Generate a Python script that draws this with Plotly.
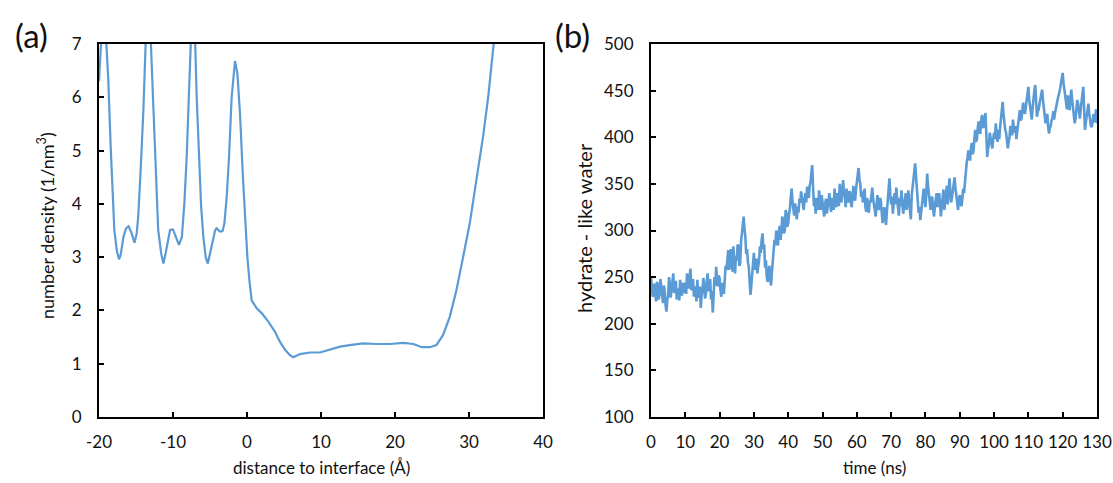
import numpy as np
import plotly.graph_objects as go

# ---- panel (a): number density profile ----
distance = [-20, -19.8, -19.5, -19.2, -19.0, -18.74, -18.42, -18.2, -17.93, -17.6,
            -17.3, -17.07, -16.7, -16.35, -16.0, -15.6, -15.2, -14.9, -14.7, -14.37,
            -14.0, -13.7, -13.35, -13.0, -12.88, -12.57, -12.3, -12.0, -11.6, -11.3,
            -11.0, -10.7, -10.4, -10.0, -9.6, -9.2, -8.8, -8.47, -8.15, -7.84,
            -7.6, -7.3, -7.0, -6.8, -6.49, -6.2, -5.9, -5.58, -5.3, -5.0,
            -4.7, -4.3, -4.1, -3.65, -3.3, -3.06, -2.74, -2.43, -2.07, -1.62,
            -1.3, -0.95, -0.55, -0.2, 0.05, 0.32, 0.63, 1.31, 1.98, 2.88,
            3.78, 4.46, 5.14, 5.8, 6.26, 7.16, 8.5, 9.86, 11.2, 12.57,
            13.9, 15.7, 17.5, 19.3, 21.1, 22.5, 23.6, 24.7, 25.6, 26.5,
            27.4, 28.3, 29.2, 30.1, 31.0, 31.9, 32.6, 33.3, 33.7]
density = [6.3, 7.05, 7.6, 7.5, 7.0, 6.32, 5.07, 4.38, 3.51, 3.13,
           2.96, 3.04, 3.38, 3.54, 3.58, 3.45, 3.27, 3.45, 3.76, 4.63,
           5.76, 7.0, 7.5, 7.05, 6.63, 5.38, 4.32, 3.51, 3.07, 2.88,
           3.07, 3.32, 3.51, 3.52, 3.38, 3.23, 3.38, 4.0, 4.88, 6.01,
           7.0, 7.4, 7.0, 6.01, 4.76, 3.95, 3.38, 3.0, 2.88, 3.07,
           3.32, 3.51, 3.54, 3.48, 3.49, 3.63, 4.13, 4.88, 6.01, 6.68,
           6.45, 5.7, 4.5, 3.6, 3.0, 2.57, 2.19, 2.04, 1.95, 1.79,
           1.6, 1.41, 1.26, 1.16, 1.12, 1.18, 1.21, 1.21, 1.26, 1.32,
           1.35, 1.38, 1.37, 1.37, 1.39, 1.37, 1.31, 1.31, 1.35, 1.54,
           1.88, 2.38, 3.0, 3.63, 4.45, 5.26, 6.01, 6.95, 7.5]
dist_tickvals = [-20, -10, 0, 10, 20, 30, 40]
dist_ticktext = ["-20", "-10", "0", "10", "20", "30", "40"]

# ---- panel (b): hydrate-like water vs time (0.25 ns steps, two rows = 10 ns) ----
hydrate_water = [
    250, 238, 229, 236, 243, 231, 224, 245, 240, 226, 232, 248, 238, 229, 222, 241, 235, 220, 213, 226,
    230, 250, 243, 228, 236, 247, 254, 233, 240, 246, 226, 231, 238, 225, 247, 236, 230, 244, 233, 238,
    244, 232, 254, 241, 238, 250, 259, 236, 240, 248, 229, 240, 236, 224, 247, 233, 228, 240, 217, 230,
    236, 249, 243, 227, 232, 245, 254, 235, 238, 248, 226, 235, 212, 230, 250, 241, 261, 247, 240, 252,
    248, 236, 229, 244, 240, 232, 247, 262, 258, 268, 279, 258, 261, 280, 270, 256, 283, 266, 254, 272,
    268, 285, 283, 262, 265, 288, 300, 308, 315, 302, 293, 275, 280, 266, 261, 245, 231, 242, 255, 268,
    276, 258, 262, 270, 254, 262, 268, 283, 276, 290, 297, 280, 285, 260, 268, 250, 245, 258, 262, 248,
    241, 256, 270, 282, 290, 284, 300, 292, 284, 298, 305, 290, 298, 315, 311, 297, 300, 322, 318, 304,
    308, 318, 324, 336, 345, 330, 322, 316, 329, 320, 312, 326, 319, 334, 330, 342, 336, 325, 322, 333,
    340, 330, 347, 338, 335, 348, 352, 362, 370, 345, 326, 335, 318, 328, 335, 322, 343, 332, 322, 338,
    330, 322, 315, 328, 334, 318, 326, 338, 340, 328, 320, 335, 332, 322, 345, 330, 325, 340, 338, 326,
    350, 338, 330, 342, 354, 340, 336, 325, 345, 334, 330, 342, 341, 330, 325, 337, 348, 336, 332, 344,
    350, 358, 367, 355, 350, 336, 342, 330, 337, 345, 325, 320, 335, 328, 319, 332, 330, 338, 346, 334,
    328, 322, 315, 326, 338, 330, 322, 335, 332, 320, 308, 318, 325, 314, 306, 320, 330, 342, 356, 338,
    328, 336, 318, 330, 340, 328, 346, 333, 322, 316, 335, 326, 343, 330, 318, 325, 332, 340, 322, 334,
    343, 330, 322, 312, 338, 346, 355, 362, 372, 358, 345, 330, 319, 325, 311, 320, 330, 338, 345, 332,
    325, 340, 361, 348, 338, 328, 322, 336, 335, 322, 315, 326, 332, 340, 325, 332, 340, 328, 315, 326,
    335, 344, 322, 330, 340, 348, 328, 340, 356, 342, 330, 336, 342, 350, 357, 345, 335, 328, 322, 334,
    338, 330, 326, 334, 345, 340, 354, 365, 372, 378, 386, 380, 375, 388, 394, 382, 385, 398, 408, 395,
    398, 410, 417, 405, 405, 418, 424, 410, 412, 420, 426, 402, 379, 388, 392, 405, 400, 392, 388, 398,
    405, 398, 415, 402, 395, 408, 398, 410, 420, 428, 438, 425, 415, 408, 405, 395, 388, 395, 400, 412,
    410, 402, 419, 410, 405, 412, 398, 406, 415, 422, 429, 418, 420, 430, 437, 428, 425, 432, 440, 446,
    454, 440, 432, 425, 419, 432, 445, 450, 456, 438, 422, 428, 430, 436, 440, 446, 451, 440, 430, 422,
    415, 420, 425, 412, 404, 410, 412, 418, 420, 428, 419, 426, 432, 436, 440, 444, 447, 452, 458, 462,
    469, 458, 450, 440, 436, 430, 445, 436, 429, 440, 451, 440, 432, 422, 415, 420, 428, 440, 436, 426,
    420, 430, 440, 448, 454, 430, 408, 416, 425, 432, 436, 425, 418, 412, 411, 420, 425, 416, 422, 430,
    415]
time_ns = np.arange(len(hydrate_water)) * 0.25

LINE = "#5B9BD5"
FONT = "Lato, 'Open Sans', sans-serif"
TXT = "#111111"

fig = go.Figure()
fig.add_trace(go.Scatter(x=distance, y=density, mode="lines",
                         line=dict(color=LINE, width=2.2), xaxis="x", yaxis="y",
                         showlegend=False, hoverinfo="skip"))
fig.add_trace(go.Scatter(x=time_ns, y=hydrate_water, mode="lines",
                         line=dict(color=LINE, width=2.6), xaxis="x2", yaxis="y2",
                         showlegend=False, hoverinfo="skip"))

W, H = 1113, 483
yd = [1 - 417 / H, 1 - 44 / H]
axis_common = dict(showline=True, mirror=True, linecolor="black", linewidth=2,
                   ticks="inside", ticklen=5, tickwidth=1.5, tickcolor="black",
                   showgrid=False, zeroline=False, automargin=False,
                   tickfont=dict(family=FONT, size=17, color=TXT))

fig.update_layout(
    width=W, height=H, margin=dict(l=0, r=0, t=0, b=0),
    paper_bgcolor="white", plot_bgcolor="white",
    xaxis=dict(domain=[99 / W, 543 / W], range=[-20, 40], tickmode="array",
               tickvals=dist_tickvals, ticktext=dist_ticktext,
               anchor="y", ticklabelstandoff=9, **axis_common),
    yaxis=dict(domain=yd, range=[0, 7], dtick=1, anchor="x",
               ticklabelstandoff=12, **axis_common),
    xaxis2=dict(domain=[651 / W, 1097 / W], range=[0, 130], dtick=10, tick0=0,
                anchor="y2", ticklabelstandoff=9, **axis_common),
    yaxis2=dict(domain=yd, range=[100, 500], dtick=50, anchor="x2",
                ticklabelstandoff=12, **axis_common),
)

ann = [
    dict(text="distance to interface (Å)", x=321 / W, y=1 - 467 / H, size=17, angle=0),
    dict(text="time (ns)", x=874 / W, y=1 - 467 / H, size=17, angle=0),
    dict(text="number density (1/nm<sup>3</sup>)", x=46 / W, y=1 - 226 / H, size=18, angle=-90),
    dict(text="hydrate - like water", x=584 / W, y=1 - 228 / H, size=20, angle=-90),
    dict(text="(a)", x=31 / W, y=1 - 35 / H, size=33, angle=0),
    dict(text="(b)", x=572 / W, y=1 - 35 / H, size=33, angle=0),
]
for a in ann:
    fig.add_annotation(text=a["text"], x=a["x"], y=a["y"], xref="paper", yref="paper",
                       showarrow=False, textangle=a["angle"], xanchor="center", yanchor="middle",
                       font=dict(family=FONT, size=a["size"], color=TXT))

fig.write_html("out.html",
               post_script="document.body.style.margin='0';document.body.style.overflow='hidden';")
